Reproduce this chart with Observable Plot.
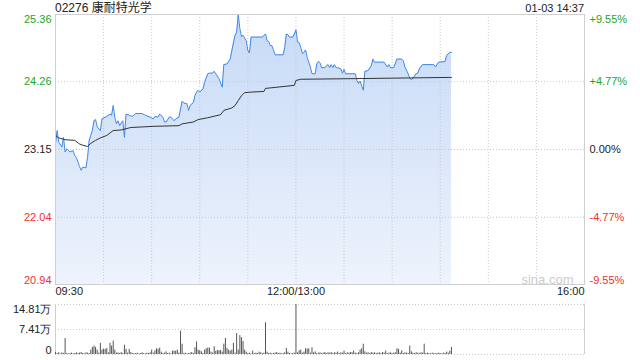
<!DOCTYPE html>
<html><head><meta charset="utf-8">
<script src="https://cdn.jsdelivr.net/npm/d3@7"></script>
<script src="https://cdn.jsdelivr.net/npm/@observablehq/plot@0.6"></script>
<style>
body{margin:0;background:#fff;font-family:"Liberation Sans",Arial,"Noto Sans CJK SC",sans-serif;}
#wrap{position:relative;width:640px;height:360px;overflow:hidden;background:#fff}
.t{position:absolute;font-size:12px;line-height:14px;color:#222;white-space:nowrap}
</style></head><body>
<div id="wrap">
<div id="price" style="position:absolute;left:0;top:0"></div>
<div id="vol" style="position:absolute;left:0;top:300px"></div>
<div class="t" id="title" style="left:55px;top:1px"></div>
<div class="t" id="stamp" style="right:56px;top:1px;font-size:11px"></div>
</div>
<script>
const stockName = "02276 康耐特光学";
const stampText = "01-03 14:37";
const prevClose = 23.15;
const priceTicks = [20.94, 22.04, 23.15, 24.26, 25.36];
const pctTicks = ["-9.55%", "-4.77%", "0.00%", "+4.77%", "+9.55%"];
const timeLabels = ["09:30", "12:00/13:00", "16:00"];
const timeLabelMinutes = [0, 150, 330];
const gridMinutes = [30, 60, 90, 120, 150, 180, 210, 240, 270, 300];
const volTicks = [0, 74100, 148100];
const volTickLabels = ["0", "7.41万", "14.81万"];
const watermark = "sina.com";

const priceTimes = ["09:30","09:31","09:32","09:34","09:35","09:36","09:37","09:39","09:41","09:42","09:43","09:45","09:46","09:47","09:49","09:50","09:51","09:53","09:54","09:55","09:56","09:58","09:59","10:01","10:02","10:04","10:05","10:06","10:07","10:08","10:09","10:10","10:12","10:13","10:14","10:16","10:18","10:20","10:24","10:26","10:29","10:31","10:32","10:34","10:35","10:37","10:38","10:39","10:41","10:42","10:44","10:45","10:47","10:49","10:50","10:52","10:53","10:54","10:56","10:57","10:58","10:59","11:00","11:02","11:03","11:05","11:06","11:08","11:09","11:10","11:12","11:14","11:15","11:17","11:19","11:20","11:22","11:23","11:24","11:25","11:26","11:27","11:29","11:30","11:31","11:32","11:34","11:39","11:41","11:42","11:43","11:44","11:45","11:47","11:52","11:53","11:54","11:55","11:56","11:58","11:59","12:00","13:01","13:02","13:03","13:04","13:05","13:06","13:07","13:09","13:10","13:12","13:13","13:14","13:15","13:16","13:18","13:20","13:21","13:22","13:23","13:24","13:25","13:26","13:28","13:29","13:30","13:31","13:37","13:38","13:39","13:40","13:42","13:43","13:45","13:47","13:48","13:49","13:55","13:57","13:58","13:59","14:01","14:03","14:06","14:07","14:08","14:10","14:11","14:12","14:13","14:15","14:16","14:17","14:19","14:26","14:27","14:29","14:33","14:34","14:36","14:37"];
const prices = [23.24,23.46,23.27,23.19,23.35,23.11,23.16,23.11,23.13,23.05,23.02,22.87,22.81,22.86,22.85,23.02,23.30,23.46,23.62,23.64,23.52,23.46,23.65,23.68,23.69,23.73,23.71,23.87,23.68,23.57,23.62,23.54,23.62,23.35,23.73,23.71,23.69,23.74,23.74,23.71,23.68,23.65,23.69,23.68,23.73,23.68,23.60,23.60,23.68,23.68,23.62,23.65,23.68,23.94,23.91,23.90,23.79,23.87,23.92,24.03,24.09,24.12,24.09,24.14,24.25,24.39,24.40,24.40,24.43,24.39,24.31,24.17,24.54,24.55,24.63,24.77,25.02,25.07,25.36,25.13,25.00,25.02,24.93,24.77,24.73,24.99,24.99,24.99,25.04,24.93,24.92,24.85,24.85,24.70,24.70,24.82,25.04,25.03,24.99,24.99,25.04,25.11,24.91,24.90,24.82,24.72,24.74,24.78,24.66,24.50,24.39,24.39,24.55,24.59,24.57,24.49,24.49,24.54,24.49,24.54,24.49,24.54,24.49,24.49,24.47,24.40,24.46,24.39,24.39,24.28,24.23,24.27,24.12,24.43,24.44,24.52,24.63,24.58,24.58,24.50,24.54,24.49,24.49,24.63,24.63,24.60,24.50,24.39,24.32,24.29,24.32,24.39,24.40,24.47,24.54,24.54,24.50,24.58,24.59,24.69,24.74,24.74];

const avgTimes = ["09:30","09:32","09:36","09:42","09:45","09:47","09:50","09:52","09:55","09:58","10:02","10:06","10:11","10:17","10:32","10:47","10:49","10:56","10:59","11:05","11:13","11:15","11:20","11:22","11:24","11:26","11:28","11:32","11:40","11:41","11:59","12:00","13:03","13:37","14:36","14:37"];
const avgPrices = [23.38,23.34,23.31,23.30,23.24,23.22,23.20,23.25,23.30,23.34,23.38,23.46,23.47,23.51,23.53,23.54,23.57,23.60,23.64,23.67,23.72,23.79,23.83,23.87,23.95,24.03,24.08,24.09,24.10,24.15,24.20,24.28,24.30,24.31,24.33,24.33];

// volume per minute, index 0 = 09:30, index 150 = 12:00, index 151 = 13:01
const volumes = [
6000,3000,5000,2000,5000,3000,47400,3000,2000,3000,
4000,2000,3000,5000,3000,4000,6000,3000,2000,5000,
4000,3000,13000,21000,25000,21000,13000,4000,33000,13000,
16000,15000,18000,5000,33000,25000,39500,13000,4000,5000,
3000,6000,3000,27600,15000,4000,15000,6000,3000,2000,
3000,4000,2000,3000,5000,3000,2000,4000,3000,5000,
13000,4000,11000,17000,15000,19000,7000,3000,4000,8000,
3000,4000,2000,10000,10000,10000,13000,4000,69000,30500,
3000,4000,2000,3000,4000,6000,3000,20000,37500,13000,
11000,8000,3000,13000,17000,19000,19000,7000,4000,23000,
9000,12000,11000,12000,7000,30500,47400,18000,13000,10000,
13000,33000,4000,62000,13000,56000,50000,38500,13000,7000,
3000,4000,2000,10000,3000,4000,3000,7000,5000,3000,
4000,94000,7000,3000,4000,2000,3000,4000,6000,3000,
4000,2000,3000,5000,18000,7000,3000,2000,3000,4000,
148100,5000,11000,13000,4000,7000,17000,16000,17000,4000,
20000,5000,8000,3000,4000,5000,3000,4000,6000,3000,
5000,4000,6000,3000,5000,4000,7000,3000,5000,4000,
10000,3000,5000,4000,6000,5000,10000,4000,3000,5000,
13000,17000,30500,8000,4000,5000,3000,6000,4000,5000,
3000,4000,5000,3000,6000,4000,10000,3000,4000,5000,
3000,4000,5000,17000,15000,4000,11000,3000,5000,4000,
3000,25000,8000,4000,3000,5000,4000,3000,5000,4000,
30500,3000,4000,3000,2000,4000,3000,2000,3000,4000,
3000,2000,4000,3000,7000,4000,10000,21000];

document.getElementById("title").textContent = stockName;
document.getElementById("stamp").textContent = stampText;

const toMin = s => { const [h, mm] = s.split(":").map(Number); const t = h * 60 + mm; return t <= 720 ? t - 570 : 150 + (t - 780); };
const pdata = priceTimes.map((t, i) => ({m: toMin(t), p: prices[i]}));
const adata = avgTimes.map((t, i) => ({m: toMin(t), p: avgPrices[i]}));
const vdata = volumes.map((v, i) => ({m: i, v}));

const green = "#1ea51e", red = "#f03030", dark = "#222";
const colorOf = v => v > prevClose + 1e-9 ? green : v < prevClose - 1e-9 ? red : dark;
const labels = priceTicks.map((v, i) => ({v, pct: pctTicks[i], c: colorOf(v), i}));
const font = "Liberation Sans, Arial, sans-serif";
const grid = {stroke: "#c8c8c8", strokeDasharray: "1,2", strokeWidth: 1};

function sideLabels(sel, anchor) {
  const marks = [];
  for (const c of [green, dark, red]) {
    for (const [la, filt] of [["top", d => d.i === 4], ["bottom", d => d.i === 0], ["middle", d => d.i > 0 && d.i < 4]]) {
      const data = labels.filter(d => d.c === c && filt(d));
      if (!data.length) continue;
      marks.push(Plot.text(data, {
        y: "v", frameAnchor: anchor, textAnchor: anchor === "left" ? "end" : "start",
        dx: anchor === "left" ? -4 : 5, dy: la === "top" ? 1 : la === "bottom" ? -1 : 0,
        lineAnchor: la, text: sel, fill: c, fontSize: 11
      }));
    }
  }
  return marks;
}

const gradient = () => {
  const defs = d3.create("svg:defs");
  const g = defs.append("linearGradient").attr("id", "pgrad").attr("x1", 0).attr("y1", 0).attr("x2", 0).attr("y2", 1);
  g.append("stop").attr("offset", "0%").attr("stop-color", "#c6daf7");
  g.append("stop").attr("offset", "100%").attr("stop-color", "#eef3fc");
  return defs.node();
};

const priceChart = Plot.plot({
  width: 640, height: 300, marginTop: 14, marginBottom: 16, marginLeft: 55, marginRight: 56,
  style: {background: "none", fontFamily: font, fontSize: "11px", overflow: "visible"},
  x: {type: "linear", domain: [0, 330], axis: null},
  y: {domain: [20.94, 25.36], axis: null},
  marks: [
    gradient,
    Plot.areaY(pdata, {x: "m", y1: 20.94, y2: "p", fill: "url(#pgrad)"}),
    Plot.ruleX(gridMinutes, {x: d => d, ...grid}),
    Plot.ruleY([22.04, 23.15, 24.26], {y: d => d, ...grid}),
    Plot.lineY(pdata, {x: "m", y: "p", stroke: "#4088ec", strokeWidth: 1}),
    Plot.lineY(adata, {x: "m", y: "p", stroke: "#333", strokeWidth: 1}),
    Plot.frame({stroke: "#cfcfcf"}),
    ...sideLabels(d => d.v.toFixed(2), "left"),
    ...sideLabels(d => d.pct, "right"),
    Plot.text([0], {x: d => timeLabelMinutes[d], frameAnchor: "bottom", lineAnchor: "top", dy: 3, textAnchor: "start", text: d => timeLabels[d], fill: dark, fontSize: 11}),
    Plot.text([1], {x: d => timeLabelMinutes[d], frameAnchor: "bottom", lineAnchor: "top", dy: 3, textAnchor: "middle", text: d => timeLabels[d], fill: dark, fontSize: 11}),
    Plot.text([2], {x: d => timeLabelMinutes[d], frameAnchor: "bottom", lineAnchor: "top", dy: 3, textAnchor: "end", text: d => timeLabels[d], fill: dark, fontSize: 11}),
    Plot.text([watermark], {frameAnchor: "bottom-right", dx: -11, dy: -1, textAnchor: "end", lineAnchor: "bottom", fill: "#cccccc", fontSize: 13})
  ]
});
document.getElementById("price").append(priceChart);

const volChart = Plot.plot({
  width: 640, height: 60, marginTop: 4, marginBottom: 6, marginLeft: 55, marginRight: 56,
  style: {background: "none", fontFamily: font, fontSize: "11px", overflow: "visible"},
  x: {type: "linear", domain: [0, 330], axis: null},
  y: {domain: [0, 148100], axis: null},
  marks: [
    Plot.ruleY(volTicks, {y: d => d, ...grid}),
    Plot.ruleX([0, 330], {x: d => d, stroke: "#cfcfcf"}),
    Plot.ruleX(vdata, {x: "m", y1: 0, y2: "v", stroke: "#555", strokeWidth: 1}),
    Plot.text([2], {y: d => volTicks[d], frameAnchor: "left", textAnchor: "end", dx: -4, dy: 1, lineAnchor: "top", text: d => volTickLabels[d], fill: dark, fontSize: 11}),
    Plot.text([1], {y: d => volTicks[d], frameAnchor: "left", textAnchor: "end", dx: -4, lineAnchor: "middle", text: d => volTickLabels[d], fill: dark, fontSize: 11}),
    Plot.text([0], {y: d => volTicks[d], frameAnchor: "left", textAnchor: "end", dx: -4, dy: -1, lineAnchor: "bottom", text: d => volTickLabels[d], fill: dark, fontSize: 11})
  ]
});
document.getElementById("vol").append(volChart);
</script>
</body></html>
